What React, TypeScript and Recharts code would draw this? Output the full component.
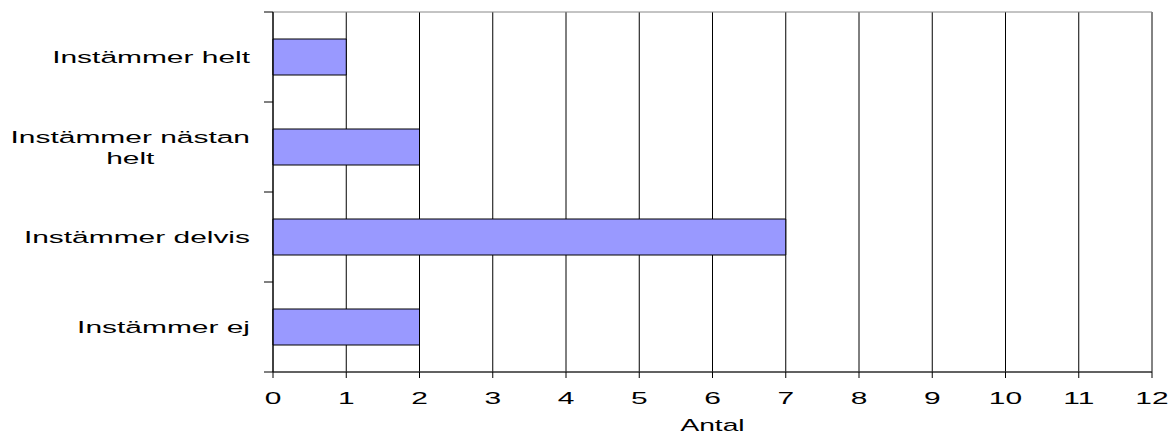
import React from 'react';
import { BarChart, Bar, XAxis, YAxis, CartesianGrid, ReferenceArea } from 'recharts';

const categories = ['Instämmer helt', 'Instämmer nästan helt', 'Instämmer delvis', 'Instämmer ej'];
const counts = [1, 2, 7, 2];
const xTicks = [0, 1, 2, 3, 4, 5, 6, 7, 8, 9, 10, 11, 12];
const axisTitle = 'Antal';

const data = categories.map((name, i) => ({ name, antal: counts[i] }));

const FONT = '"Liberation Sans", Arial, sans-serif';
// the reference text is stretched sideways
const STRETCH = 1.76;

let ctx: CanvasRenderingContext2D | null = null;
const measure = (s: string, size: number) => {
  if (!ctx && typeof document !== 'undefined') ctx = document.createElement('canvas').getContext('2d');
  if (!ctx) return s.length * size * 0.5;
  ctx.font = `${size}px ${FONT}`;
  return ctx.measureText(s).width;
};

const wrap = (s: string, size: number, max: number) => {
  const lines: string[] = [];
  let cur = '';
  for (const w of s.split(' ')) {
    const t = cur ? cur + ' ' + w : w;
    if (cur && measure(t, size) * STRETCH > max) {
      lines.push(cur);
      cur = w;
    } else cur = t;
  }
  if (cur) lines.push(cur);
  return lines;
};

// category labels plus the tick marks that sit between the categories (Excel style)
const CategoryTick = ({ x, y, payload, index, visibleTicksCount, tickMargin }: any) => {
  const size = 17;
  const lines = wrap(String(payload.value), size, 245);
  const widest = Math.max(...lines.map((l) => measure(l, size))) * STRETCH;
  const cx = x - widest / 2;
  const lh = 21;
  const first = y + 6 - ((lines.length - 1) * lh) / 2;
  const axisX = x + (tickMargin ?? 23);
  const half = payload.offset ?? 45;
  return (
    <g>
      <line x1={axisX - 9} x2={axisX} y1={y - half} y2={y - half} stroke="#000" />
      {index === visibleTicksCount - 1 && (
        <line x1={axisX - 9} x2={axisX} y1={y + half} y2={y + half} stroke="#000" />
      )}
      {lines.map((l, i) => (
        <text
          key={i}
          transform={`translate(${cx}, ${first + i * lh}) scale(${STRETCH}, 1)`}
          textAnchor="middle"
          fontSize={size}
          fontFamily={FONT}
          fill="#000"
        >
          {l}
        </text>
      ))}
    </g>
  );
};

const NumberTick = ({ x, y, payload }: any) => (
  <text
    transform={`translate(${x}, ${y + 24}) scale(${STRETCH}, 1)`}
    textAnchor="middle"
    fontSize={17}
    fontFamily={FONT}
    fill="#000"
  >
    {payload.value}
  </text>
);

const AxisTitle = ({ viewBox, text }: any) => (
  <text
    transform={`translate(${viewBox.x + viewBox.width / 2}, ${viewBox.y + 59}) scale(${STRETCH}, 1)`}
    textAnchor="middle"
    fontSize={16}
    fontFamily={FONT}
    fill="#000"
  >
    {text}
  </text>
);

export default function App() {
  return (
    <div style={{ position: 'absolute', left: 0, top: 0, width: 1170, height: 434, background: '#fff' }}>
      <BarChart
        width={1170}
        height={434}
        data={data}
        layout="vertical"
        barCategoryGap="30%"
        margin={{ top: 12, right: 18, left: 0, bottom: 0 }}
      >
        <CartesianGrid horizontal={false} stroke="#000" />
        <ReferenceArea x1={0} x2={12} fill="none" stroke="#888" ifOverflow="visible" />
        <XAxis
          type="number"
          domain={[0, 12]}
          ticks={xTicks}
          interval={0}
          height={62}
          axisLine={{ stroke: '#000' }}
          tickLine={{ stroke: '#000' }}
          tickSize={6}
          tickMargin={2}
          tick={<NumberTick />}
          label={<AxisTitle text={axisTitle} />}
        />
        <YAxis
          type="category"
          dataKey="name"
          width={273}
          axisLine={{ stroke: '#000' }}
          tickLine={false}
          tickSize={0}
          tickMargin={23}
          interval={0}
          tick={<CategoryTick />}
        />
        <Bar dataKey="antal" fill="#9999FF" stroke="#000" strokeWidth={1} isAnimationActive={false} />
      </BarChart>
    </div>
  );
}
